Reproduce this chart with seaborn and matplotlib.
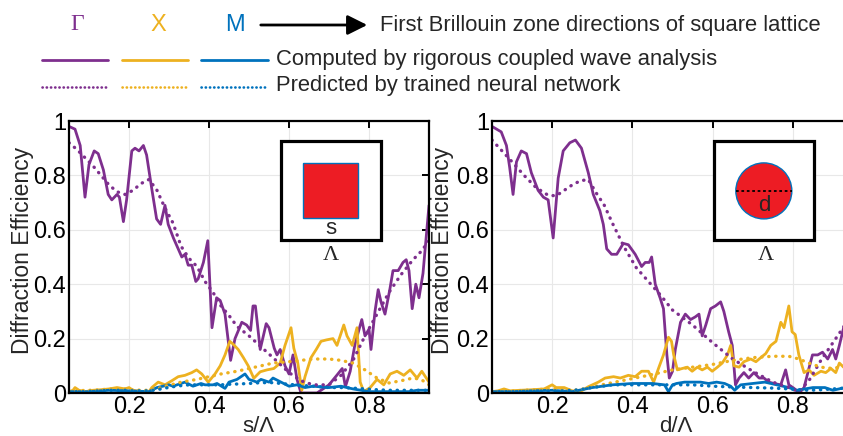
import matplotlib
matplotlib.use("Agg")
import matplotlib.pyplot as plt
import seaborn as sns
from matplotlib.lines import Line2D
from matplotlib.patches import Rectangle, Ellipse, FancyArrowPatch

# Colours (MATLAB defaults)
PURPLE = "#7E2F8E"
ORANGE = "#EDB120"
BLUE = "#0072BD"

# ---- square lattice (left panel), x = s/Lambda ----
sq_gamma_x = [0.05, 0.065, 0.078, 0.09, 0.10, 0.113, 0.123, 0.136, 0.148, 0.157, 0.17, 0.176,
              0.186, 0.194, 0.207, 0.215, 0.225, 0.236, 0.244, 0.257, 0.269, 0.279, 0.29, 0.298,
              0.311, 0.323, 0.332, 0.34, 0.348, 0.357, 0.367, 0.373, 0.386, 0.397, 0.4075, 0.419,
              0.428, 0.44, 0.454, 0.465, 0.482, 0.494, 0.504, 0.51, 0.516, 0.528, 0.543, 0.55,
              0.563, 0.57, 0.578, 0.59, 0.60, 0.61, 0.62, 0.63, 0.65, 0.67, 0.69, 0.70, 0.72,
              0.733, 0.741, 0.753, 0.765, 0.782, 0.79, 0.80, 0.805, 0.815, 0.823, 0.83, 0.84,
              0.852, 0.86, 0.873, 0.885, 0.893, 0.90, 0.908, 0.917, 0.925, 0.935, 0.95]
sq_gamma_y = [0.98, 0.97, 0.91, 0.72, 0.84, 0.89, 0.88, 0.82, 0.73, 0.71, 0.73, 0.72,
              0.63, 0.71, 0.89, 0.90, 0.89, 0.91, 0.875, 0.75, 0.64, 0.62, 0.69, 0.62,
              0.57, 0.53, 0.50, 0.51, 0.47, 0.47, 0.41, 0.42, 0.48, 0.56, 0.24, 0.35,
              0.34, 0.29, 0.12, 0.20, 0.26, 0.25, 0.23, 0.32, 0.32, 0.16, 0.255, 0.24,
              0.165, 0.14, 0.16, 0.10, 0.07, 0.14, 0.05, 0.0, 0.0, 0.0, 0.02, 0.03, 0.066,
              0.09, 0.023, 0.08, 0.18, 0.27, 0.21, 0.235, 0.16, 0.30, 0.38, 0.335, 0.29,
              0.38, 0.45, 0.45, 0.48, 0.49, 0.45, 0.31, 0.40, 0.35, 0.44, 0.69]

sq_x_x = [0.05, 0.06, 0.065, 0.075, 0.09, 0.11, 0.13, 0.15, 0.17, 0.19, 0.20, 0.21, 0.23,
          0.25, 0.257, 0.273, 0.29, 0.307, 0.323, 0.34, 0.357, 0.369, 0.382, 0.398, 0.415,
          0.428, 0.44, 0.452, 0.46, 0.473, 0.486, 0.498, 0.512, 0.528, 0.545, 0.562, 0.578,
          0.59, 0.605, 0.612, 0.622, 0.632, 0.64, 0.655, 0.668, 0.68, 0.693, 0.71, 0.72,
          0.737, 0.745, 0.758, 0.77, 0.778, 0.787, 0.803, 0.82, 0.837, 0.853, 0.87, 0.887,
          0.903, 0.92, 0.932, 0.95]
sq_x_y = [0.005, 0.01, 0.02, 0.01, 0.005, 0.01, 0.012, 0.015, 0.02, 0.015, 0.02, 0.01, 0.005,
          0.005, 0.02, 0.04, 0.03, 0.045, 0.06, 0.065, 0.075, 0.085, 0.07, 0.04, 0.07,
          0.10, 0.14, 0.19, 0.18, 0.16, 0.13, 0.10, 0.054, 0.078, 0.085, 0.09, 0.11,
          0.175, 0.24, 0.165, 0.11, 0.01, 0.06, 0.13, 0.16, 0.19, 0.195, 0.20, 0.175,
          0.25, 0.21, 0.175, 0.24, 0.04, 0.005, 0.02, 0.05, 0.03, 0.07, 0.08, 0.065,
          0.085, 0.055, 0.08, 0.04]

sq_m_x = [0.05, 0.10, 0.15, 0.20, 0.25, 0.27, 0.30, 0.31, 0.33, 0.34, 0.36, 0.38, 0.39,
          0.41, 0.42, 0.44, 0.45, 0.47, 0.49, 0.50, 0.52, 0.53, 0.55, 0.56, 0.58, 0.60,
          0.62, 0.64, 0.66, 0.70, 0.73, 0.76, 0.78, 0.80, 0.85, 0.90, 0.92, 0.95]
sq_m_y = [0.005, 0.005, 0.01, 0.008, 0.005, 0.02, 0.03, 0.025, 0.035, 0.04, 0.025, 0.035, 0.03,
          0.03, 0.035, 0.017, 0.04, 0.05, 0.07, 0.05, 0.04, 0.05, 0.04, 0.055, 0.04, 0.025,
          0.03, 0.02, 0.025, 0.02, 0.025, 0.015, 0.01, 0.005, 0.005, 0.005, 0.01, 0.01]

sq_pred_x = [0.05, 0.07, 0.09, 0.11, 0.13, 0.15, 0.17, 0.19, 0.21, 0.23, 0.25, 0.27, 0.29,
             0.31, 0.33, 0.35, 0.37, 0.39, 0.41, 0.43, 0.45, 0.47, 0.50, 0.53, 0.56, 0.60,
             0.63, 0.66, 0.70, 0.73, 0.76, 0.79, 0.82, 0.85, 0.88, 0.91, 0.93, 0.95]
sq_gamma_pred = [0.92, 0.895, 0.865, 0.835, 0.80, 0.765, 0.74, 0.73, 0.745, 0.77, 0.785, 0.745, 0.68,
                 0.625, 0.54, 0.495, 0.465, 0.41, 0.37, 0.32, 0.285, 0.245, 0.21, 0.17, 0.13, 0.075,
                 0.045, 0.03, 0.03, 0.065, 0.12, 0.21, 0.29, 0.37, 0.435, 0.49, 0.52, 0.56]
sq_x_pred = [0.005, 0.007, 0.01, 0.01, 0.012, 0.015, 0.015, 0.015, 0.012, 0.01, 0.01, 0.015, 0.025,
             0.032, 0.04, 0.045, 0.05, 0.057, 0.063, 0.07, 0.075, 0.08, 0.09, 0.10, 0.11, 0.115,
             0.12, 0.125, 0.125, 0.12, 0.11, 0.085, 0.055, 0.037, 0.045, 0.055, 0.05, 0.03]
sq_m_pred = [0.005, 0.005, 0.005, 0.007, 0.008, 0.01, 0.01, 0.01, 0.008, 0.008, 0.008, 0.012, 0.018,
             0.023, 0.027, 0.03, 0.03, 0.03, 0.03, 0.03, 0.032, 0.033, 0.035, 0.038, 0.038, 0.032,
             0.028, 0.025, 0.02, 0.02, 0.018, 0.015, 0.012, 0.01, 0.01, 0.01, 0.01, 0.01]

# ---- circular holes (right panel), x = d/Lambda ----
ci_gamma_x = [0.05, 0.073, 0.086, 0.094, 0.1025, 0.111, 0.123, 0.136, 0.148, 0.165, 0.178, 0.19,
              0.2025, 0.215, 0.2275, 0.244, 0.258, 0.273, 0.29, 0.3025, 0.319, 0.3275, 0.336,
              0.348, 0.361, 0.3775, 0.39, 0.407, 0.423, 0.432, 0.442, 0.448, 0.457, 0.469,
              0.4775, 0.486, 0.492, 0.50, 0.507, 0.52, 0.532, 0.545, 0.557, 0.566, 0.574,
              0.583, 0.595, 0.607, 0.62, 0.628, 0.64, 0.649, 0.657, 0.666, 0.678, 0.69, 0.703,
              0.716, 0.728, 0.74, 0.753, 0.77, 0.782, 0.79, 0.803, 0.816, 0.828, 0.84, 0.849,
              0.862, 0.874, 0.887, 0.899, 0.907, 0.916, 0.93]
ci_gamma_y = [0.98, 0.96, 0.91, 0.83, 0.73, 0.85, 0.89, 0.88, 0.81, 0.745, 0.72, 0.71,
              0.57, 0.79, 0.89, 0.92, 0.93, 0.90, 0.81, 0.73, 0.67, 0.62, 0.53,
              0.51, 0.51, 0.55, 0.545, 0.51, 0.465, 0.48, 0.48, 0.50, 0.40, 0.35,
              0.31, 0.14, 0.055, 0.08, 0.16, 0.26, 0.29, 0.27, 0.28, 0.29, 0.21,
              0.25, 0.31, 0.32, 0.335, 0.30, 0.225, 0.175, 0.03, 0.055, 0.075, 0.055, 0.075,
              0.055, 0.055, 0.04, 0.035, 0.03, 0.085, 0.03, 0.017, 0.0, 0.02, 0.09, 0.14,
              0.14, 0.15, 0.125, 0.16, 0.125, 0.175, 0.26]

ci_x_x = [0.05, 0.065, 0.08, 0.095, 0.12, 0.15, 0.18, 0.20, 0.21, 0.23, 0.25, 0.27, 0.29,
          0.315, 0.332, 0.353, 0.37, 0.39, 0.407, 0.423, 0.44, 0.453, 0.465, 0.4775, 0.49,
          0.4975, 0.503, 0.512, 0.524, 0.537, 0.549, 0.562, 0.574, 0.587, 0.599, 0.612,
          0.624, 0.637, 0.645, 0.653, 0.666, 0.678, 0.695, 0.708, 0.72, 0.7325, 0.745,
          0.758, 0.77, 0.778, 0.79, 0.798, 0.806, 0.815, 0.828, 0.84, 0.853, 0.87, 0.882,
          0.895, 0.907, 0.916, 0.93]
ci_x_y = [0.005, 0.008, 0.015, 0.008, 0.01, 0.012, 0.015, 0.03, 0.02, 0.02, 0.008, 0.005, 0.023,
          0.04, 0.055, 0.06, 0.055, 0.065, 0.06, 0.08, 0.08, 0.04, 0.09, 0.14, 0.205,
          0.19, 0.14, 0.085, 0.09, 0.095, 0.08, 0.095, 0.085, 0.095, 0.08, 0.095,
          0.11, 0.14, 0.175, 0.10, 0.095, 0.115, 0.125, 0.115, 0.13, 0.145, 0.175,
          0.19, 0.26, 0.24, 0.32, 0.225, 0.215, 0.14, 0.075, 0.085, 0.065, 0.08, 0.075,
          0.09, 0.075, 0.11, 0.09]

ci_m_x = [0.05, 0.10, 0.15, 0.20, 0.25, 0.30, 0.35, 0.40, 0.45, 0.48, 0.49, 0.50, 0.51, 0.53,
          0.55, 0.57, 0.59, 0.61, 0.63, 0.645, 0.655, 0.67, 0.70, 0.73, 0.76, 0.79, 0.81,
          0.83, 0.85, 0.88, 0.90, 0.93]
ci_m_y = [0.005, 0.005, 0.008, 0.01, 0.005, 0.02, 0.03, 0.035, 0.035, 0.03, 0.005, 0.03, 0.035, 0.04,
          0.04, 0.04, 0.035, 0.04, 0.035, 0.025, 0.01, 0.03, 0.035, 0.04, 0.03, 0.02, 0.01,
          0.015, 0.02, 0.02, 0.01, 0.02]

ci_pred_x = [0.05, 0.075, 0.10, 0.13, 0.16, 0.19, 0.21, 0.23, 0.25, 0.27, 0.29, 0.31, 0.33,
             0.35, 0.38, 0.41, 0.44, 0.47, 0.50, 0.55, 0.60, 0.65, 0.70, 0.75, 0.79, 0.815,
             0.84, 0.87, 0.90, 0.93]
ci_gamma_pred = [0.93, 0.89, 0.85, 0.80, 0.755, 0.727, 0.725, 0.745, 0.765, 0.78, 0.785, 0.735, 0.69,
                 0.625, 0.535, 0.46, 0.41, 0.36, 0.305, 0.25, 0.185, 0.125, 0.08, 0.04, 0.02, 0.005,
                 0.045, 0.12, 0.185, 0.25]
ci_x_pred = [0.005, 0.005, 0.007, 0.01, 0.012, 0.015, 0.015, 0.012, 0.01, 0.012, 0.02, 0.025, 0.032,
             0.038, 0.047, 0.056, 0.065, 0.075, 0.085, 0.095, 0.105, 0.12, 0.13, 0.135, 0.135, 0.125,
             0.11, 0.095, 0.09, 0.10]
ci_m_pred = [0.005, 0.005, 0.005, 0.006, 0.007, 0.008, 0.008, 0.008, 0.01, 0.012, 0.018, 0.022, 0.026,
             0.03, 0.03, 0.03, 0.03, 0.03, 0.03, 0.03, 0.025, 0.022, 0.02, 0.018, 0.015, 0.012,
             0.01, 0.012, 0.015, 0.018]

y_ticks = [0, 0.2, 0.4, 0.6, 0.8, 1]
y_tick_labels = ["0", "0.2", "0.4", "0.6", "0.8", "1"]
x_ticks = [0.2, 0.4, 0.6, 0.8]
x_tick_labels = ["0.2", "0.4", "0.6", "0.8"]

sns.set_style("white")
plt.rcParams["font.family"] = ["Liberation Sans", "DejaVu Sans"]

W, H = 843, 436
fig = plt.figure(figsize=(W / 100, H / 100), dpi=100)


def fx(px):
    return px / W


def fy(py):
    return 1 - py / H


DOT = dict(linestyle=(0, (0.1, 2.0)), dash_capstyle="round", linewidth=2.4)
SOLID = dict(linestyle="-", linewidth=2.0)


def draw_panel(ax, solids, preds, pred_x, xlabel):
    for (xs, ys), c in zip(solids, [PURPLE, ORANGE, BLUE]):
        sns.lineplot(x=xs, y=ys, ax=ax, color=c, estimator=None, **SOLID)
    for ys, c in zip(preds, [PURPLE, ORANGE, BLUE]):
        sns.lineplot(x=pred_x, y=ys, ax=ax, color=c, estimator=None, **DOT)
    ax.set_xlim(0.05, 0.95)
    ax.set_ylim(0, 1)
    ax.set_xticks(x_ticks)
    ax.set_xticklabels(x_tick_labels)
    ax.set_yticks(y_ticks)
    ax.set_yticklabels(y_tick_labels)
    ax.grid(True, color="#e8e8e8", linewidth=0.8)
    ax.set_axisbelow(True)
    ax.tick_params(direction="in", top=True, right=True, length=5, width=1.4,
                   labelsize=17, pad=2, colors="black")
    for s in ax.spines.values():
        s.set_linewidth(1.6)
        s.set_color("black")
    ax.set_ylabel("Diffraction Efficiency", fontsize=16.5)
    ax.set_xlabel(xlabel, fontsize=16)


ax1 = fig.add_axes([fx(69), fy(393), 360 / W, 272 / H])
ax2 = fig.add_axes([fx(492), fy(393), 361 / W, 272 / H])

draw_panel(ax1, [(sq_gamma_x, sq_gamma_y), (sq_x_x, sq_x_y), (sq_m_x, sq_m_y)],
           [sq_gamma_pred, sq_x_pred, sq_m_pred], sq_pred_x, "s/\u039b")
draw_panel(ax2, [(ci_gamma_x, ci_gamma_y), (ci_x_x, ci_x_y), (ci_m_x, ci_m_y)],
           [ci_gamma_pred, ci_x_pred, ci_m_pred], ci_pred_x, "d/\u039b")

ax1.yaxis.set_label_coords(-0.098, 0.525)
ax2.yaxis.set_label_coords(-0.106, 0.525)
ax1.xaxis.set_label_coords(0.525, -0.085)
ax2.xaxis.set_label_coords(0.51, -0.085)

# ---- insets: unit cell sketches ----
RED = "#ED1C24"
ax1.add_patch(Rectangle((0.589, 0.5625), 0.278, 0.3635, transform=ax1.transAxes,
                        facecolor="white", edgecolor="black", lw=2.3, zorder=5))
ax1.add_patch(Rectangle((0.65, 0.643), 0.153, 0.203, transform=ax1.transAxes,
                        facecolor=RED, edgecolor=BLUE, lw=1.0, zorder=6))
ax1.text(0.727, 0.605, "s", transform=ax1.transAxes, ha="center", va="center",
         fontsize=16, zorder=7)
ax1.text(0.727, 0.505, "\u039b", transform=ax1.transAxes, ha="center", va="center",
         fontsize=16, family=["Liberation Serif", "DejaVu Serif"])

ax2.add_patch(Rectangle((0.615, 0.5625), 0.277, 0.3635, transform=ax2.transAxes,
                        facecolor="white", edgecolor="black", lw=2.3, zorder=5))
ax2.add_patch(Ellipse((0.753, 0.743), 56 / 361, 56 / 272, transform=ax2.transAxes,
                      facecolor=RED, edgecolor=BLUE, lw=1.0, zorder=6))
ax2.add_line(Line2D([0.676, 0.83], [0.743, 0.743], transform=ax2.transAxes, color="black",
                    lw=1.3, linestyle=(0, (1.5, 1.5)), zorder=7))
ax2.text(0.753, 0.69, "d", transform=ax2.transAxes, ha="center", va="center",
         fontsize=16, zorder=7)
ax2.text(0.758, 0.505, "\u039b", transform=ax2.transAxes, ha="center", va="center",
         fontsize=16, family=["Liberation Serif", "DejaVu Serif"])

# ---- top legend ----
fig.text(fx(77), fy(25), "\u0393", color=PURPLE, fontsize=17, ha="center", va="center",
         family=["Liberation Serif", "DejaVu Serif"])
fig.text(fx(158), fy(25), "X", color=ORANGE, fontsize=17, ha="center", va="center")
fig.text(fx(235), fy(25), "M", color=BLUE, fontsize=17, ha="center", va="center")
fig.add_artist(FancyArrowPatch((fx(258), fy(25)), (fx(370), fy(25)),
                               transform=fig.transFigure, arrowstyle="-|>",
                               mutation_scale=30, lw=2, color="black"))
fig.text(fx(380), fy(25), "First Brillouin zone directions of square lattice",
         fontsize=15.8, ha="left", va="center")

segments = [(42, 108), (122, 188), (201, 268)]
for (a, b), c in zip(segments, [PURPLE, ORANGE, BLUE]):
    fig.add_artist(Line2D([fx(a), fx(b)], [fy(60), fy(60)], transform=fig.transFigure,
                          color=c, **SOLID))
    fig.add_artist(Line2D([fx(a), fx(b)], [fy(87), fy(87)], transform=fig.transFigure,
                          color=c, linestyle=(0, (0.1, 1.5)), dash_capstyle="round",
                          linewidth=1.9))
fig.text(fx(276), fy(59), "Computed by rigorous coupled wave analysis",
         fontsize=15.8, ha="left", va="center")
fig.text(fx(276), fy(86), "Predicted by trained neural network",
         fontsize=15.8, ha="left", va="center")

fig.savefig("out.png", dpi=100)
